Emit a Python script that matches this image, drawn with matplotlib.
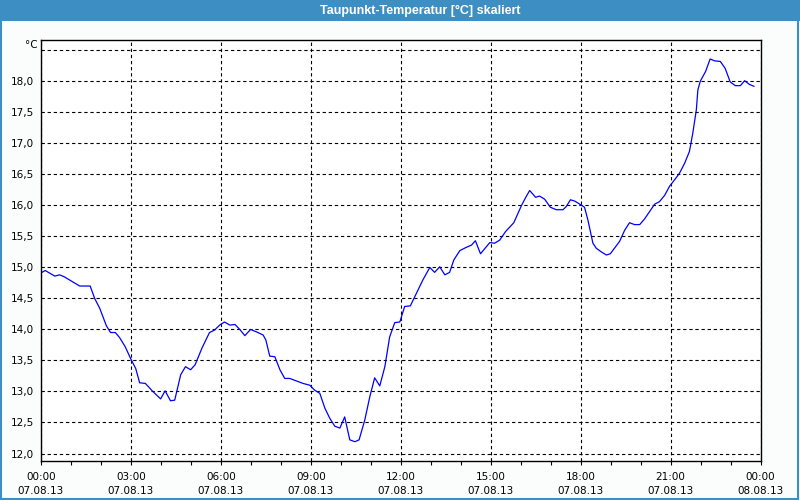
import matplotlib
matplotlib.use("Agg")
import matplotlib.pyplot as plt
from matplotlib.patches import Rectangle
from matplotlib.ticker import MultipleLocator

# time in hours since 07.08.13 00:00, dew point in degC
hours = [0.00, 0.14, 0.46, 0.62, 0.77, 1.01, 1.29, 1.64, 1.79, 1.96,
         2.18, 2.32, 2.48, 2.62, 2.81, 3.01, 3.16, 3.29, 3.48, 3.73,
         3.99, 4.14, 4.32, 4.46, 4.66, 4.82, 4.99, 5.14, 5.37, 5.62,
         5.79, 5.96, 6.12, 6.30, 6.47, 6.63, 6.80, 6.99, 7.19, 7.41,
         7.50, 7.63, 7.80, 7.97, 8.13, 8.30, 8.52, 8.74, 8.97, 9.13,
         9.30, 9.47, 9.63, 9.80, 9.97, 10.13, 10.30, 10.47, 10.61, 10.80,
         10.97, 11.13, 11.30, 11.47, 11.63, 11.80, 11.97, 12.13, 12.32, 12.52,
         12.74, 12.97, 13.13, 13.30, 13.47, 13.63, 13.77, 13.97, 14.17, 14.36,
         14.49, 14.66, 14.83, 14.97, 15.13, 15.30, 15.50, 15.77, 16.02, 16.17,
         16.30, 16.50, 16.63, 16.80, 16.99, 17.19, 17.41, 17.52, 17.66, 17.80,
         17.97, 18.13, 18.24, 18.41, 18.52, 18.69, 18.86, 18.99, 19.13, 19.30,
         19.47, 19.63, 19.80, 19.97, 20.13, 20.30, 20.47, 20.63, 20.80, 20.97,
         21.13, 21.30, 21.47, 21.63, 21.74, 21.86, 21.91, 21.99, 22.17, 22.32,
         22.47, 22.66, 22.82, 22.99, 23.16, 23.33, 23.47, 23.63, 23.78]
dewpoint = [14.91, 14.95, 14.86, 14.88, 14.85, 14.78, 14.70, 14.70, 14.50, 14.34,
            14.06, 13.95, 13.95, 13.87, 13.72, 13.51, 13.37, 13.14, 13.13, 13.00,
            12.88, 13.01, 12.85, 12.86, 13.27, 13.40, 13.35, 13.43, 13.70, 13.95,
            13.99, 14.07, 14.12, 14.07, 14.08, 14.00, 13.90, 14.00, 13.96, 13.91,
            13.83, 13.57, 13.56, 13.35, 13.21, 13.21, 13.17, 13.13, 13.10, 13.02,
            12.97, 12.73, 12.57, 12.44, 12.41, 12.59, 12.22, 12.19, 12.22, 12.54,
            12.92, 13.22, 13.09, 13.40, 13.88, 14.11, 14.12, 14.37, 14.38, 14.58,
            14.80, 15.00, 14.92, 15.01, 14.88, 14.92, 15.12, 15.27, 15.32, 15.36,
            15.43, 15.22, 15.32, 15.40, 15.39, 15.44, 15.58, 15.72, 15.99, 16.13,
            16.24, 16.13, 16.15, 16.10, 15.97, 15.93, 15.93, 15.98, 16.09, 16.07,
            16.02, 15.97, 15.77, 15.39, 15.31, 15.25, 15.20, 15.22, 15.31, 15.42,
            15.60, 15.72, 15.69, 15.69, 15.78, 15.90, 16.02, 16.06, 16.16, 16.31,
            16.41, 16.52, 16.68, 16.87, 17.16, 17.54, 17.86, 18.00, 18.16, 18.36,
            18.33, 18.32, 18.21, 17.99, 17.93, 17.93, 18.01, 17.95, 17.92]

xtick_pos = [0, 3, 6, 9, 12, 15, 18, 21, 24]
xtick_labels = ["00:00\n07.08.13", "03:00\n07.08.13", "06:00\n07.08.13",
                "09:00\n07.08.13", "12:00\n07.08.13", "15:00\n07.08.13",
                "18:00\n07.08.13", "21:00\n07.08.13", "00:00\n08.08.13"]
ytick_pos = [12.0, 12.5, 13.0, 13.5, 14.0, 14.5, 15.0, 15.5, 16.0, 16.5,
             17.0, 17.5, 18.0, 18.5]
# top grid line has no number, the unit sits there instead
ytick_labels = [f"{v:.1f}".replace(".", ",") for v in ytick_pos[:-1]] + [""]

blue_bar = "#3d8fc3"

fig = plt.figure(figsize=(8, 5), dpi=100, facecolor="#fbfdfd")

# title bar + frame
fig.patches.append(Rectangle((0, 1 - 21 / 500), 1, 21 / 500, transform=fig.transFigure,
                             facecolor=blue_bar, edgecolor="none", zorder=0))
fig.patches.append(Rectangle((0.001, 0.002), 0.997, 0.995, transform=fig.transFigure,
                             facecolor="none", edgecolor=blue_bar, linewidth=1.5, zorder=0))
fig.text(420 / 800, 1 - 10.5 / 500, "Taupunkt-Temperatur [°C] skaliert",
         color="white", fontsize=9, fontweight="bold", family="Liberation Sans",
         ha="center", va="center")

ax = fig.add_axes([41 / 800, 39.3 / 500, 719.5 / 800, 420.7 / 500])
ax.set_facecolor("white")
ax.plot(hours, dewpoint, color="#0000ff", linewidth=0.9)

ax.set_xlim(0, 24)
ax.set_ylim(11.884, 18.666)
ax.set_xticks(xtick_pos)
ax.set_xticklabels(xtick_labels, fontsize=7.5, linespacing=1.55)
ax.xaxis.set_minor_locator(MultipleLocator(1))
ax.set_yticks(ytick_pos)
ax.set_yticklabels(ytick_labels, fontsize=7.5)

ax.tick_params(axis="x", which="both", direction="out", length=3, width=0.8, pad=5)
ax.tick_params(axis="y", length=0, pad=5)

ax.grid(True, which="major", color="black", linestyle=(0, (3, 2.5)), linewidth=0.8)
for s in ax.spines.values():
    s.set_linewidth(1.0)
    s.set_color("black")

fig.text(31 / 800, 1 - 45 / 500, "°C", fontsize=7.5, ha="center", va="center")

fig.savefig("out.png", dpi=100, facecolor=fig.get_facecolor())
